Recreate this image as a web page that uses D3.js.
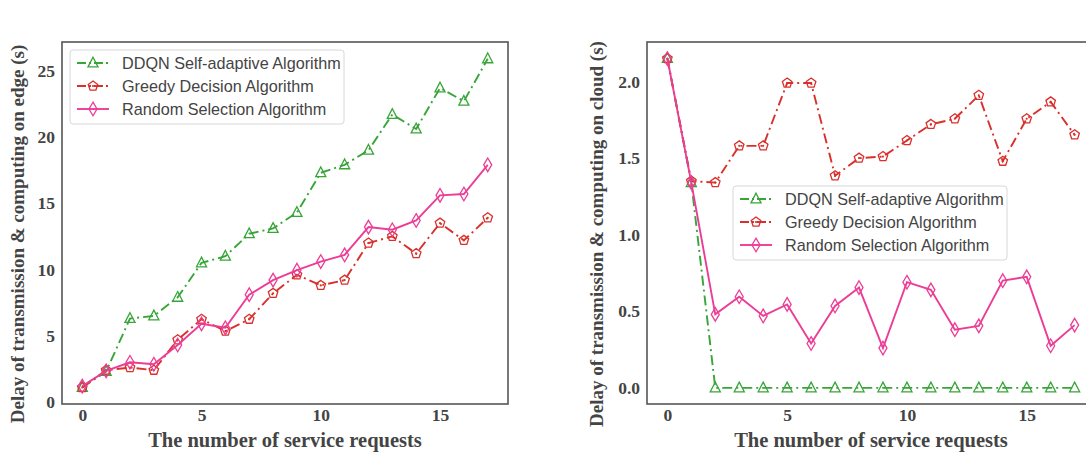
<!DOCTYPE html>
<html>
<head>
<meta charset="utf-8">
<script src="https://cdn.jsdelivr.net/npm/d3@7"></script>
<style>
  body { margin: 0; background: #fff; }
  svg { display: block; }
</style>
</head>
<body>
<div id="chart"></div>
<script>
// number of service requests (x categories)
var requests = [0, 1, 2, 3, 4, 5, 6, 7, 8, 9, 10, 11, 12, 13, 14, 15, 16, 17];

// left panel: delay on edge (s)
var edgeDDQN = [1.1, 2.3, 6.3, 6.5, 7.9, 10.5, 11.0, 12.7, 13.1, 14.3, 17.3, 17.9, 19.0, 21.7, 20.6, 23.7, 22.7, 25.9];
var edgeGreedy = [1.1, 2.4, 2.6, 2.4, 4.7, 6.25, 5.35, 6.25, 8.2, 9.6, 8.8, 9.2, 12.0, 12.5, 11.2, 13.5, 12.2, 13.9];
var edgeRandom = [1.2, 2.35, 3.0, 2.85, 4.3, 5.9, 5.6, 8.1, 9.2, 9.95, 10.6, 11.1, 13.2, 13.0, 13.7, 15.6, 15.7, 17.9];

// right panel: delay on cloud (s)
var cloudDDQN = [2.15, 1.34, 0, 0, 0, 0, 0, 0, 0, 0, 0, 0, 0, 0, 0, 0, 0, 0];
var cloudGreedy = [2.15, 1.35, 1.34, 1.58, 1.58, 1.99, 1.99, 1.385, 1.5, 1.51, 1.615, 1.72, 1.757, 1.91, 1.48, 1.757, 1.867, 1.652];
var cloudRandom = [2.15, 1.34, 0.48, 0.595, 0.47, 0.545, 0.29, 0.535, 0.655, 0.26, 0.69, 0.64, 0.38, 0.405, 0.70, 0.725, 0.275, 0.41];

var seriesNames = ["DDQN Self-adaptive Algorithm", "Greedy Decision Algorithm", "Random Selection Algorithm"];
var xTicks = [0, 5, 10, 15];
var edgeTicks = [0, 5, 10, 15, 20, 25];
var cloudTicks = [0, 0.5, 1.0, 1.5, 2.0];
var xLabel = "The number of service requests";

var colors = ["#37a537", "#d9302c", "#ec3d96"];
var dashes = ["10,4,2,4", "10,4,2,4", null];
var markers = ["triangle", "pentagon", "diamond"];

var svg = d3.select("#chart")
    .append("svg")
    .attr("width", 1086)
    .attr("height", 452);

// marker shape paths, centred on 0,0
function markerPath(kind) {
    if (kind == "triangle") {
        var r = 5.8;
        return "M0," + (-r) + "L" + (r * 0.87) + "," + (r * 0.5 + 1) + "L" + (-r * 0.87) + "," + (r * 0.5 + 1) + "Z";
    }
    if (kind == "pentagon") {
        var pts = [];
        for (var k = 0; k < 5; k++) {
            var a = -Math.PI / 2 + k * 2 * Math.PI / 5;
            pts.push([5 * Math.cos(a), 5 * Math.sin(a)]);
        }
        return "M" + pts.map(function (p) { return p[0].toFixed(2) + "," + p[1].toFixed(2) }).join("L") + "Z";
    }
    return "M0,-6.8L4,0L0,6.8L-4,0Z";
}

function drawMarker(g, kind, color, cx, cy) {
    g.append("path")
        .attr("d", markerPath(kind))
        .attr("transform", "translate(" + cx + "," + cy + ")")
        .attr("fill", "none")
        .attr("stroke", color)
        .attr("stroke-width", 1.3);
    if (kind == "pentagon") {
        g.append("circle")
            .attr("cx", cx).attr("cy", cy).attr("r", 1.1)
            .attr("fill", color);
    }
}

function drawPanel(p) {
    var x = d3.scaleLinear().domain([-0.85, 17.85]).range([p.left, p.right]);
    var y = d3.scaleLinear().domain(p.yDomain).range([p.bottom, p.top]);
    var g = svg.append("g");

    // x axis
    var xAxis = g.append("g")
        .attr("transform", "translate(0," + p.bottom + ")")
        .call(d3.axisBottom(x).tickValues(xTicks).tickSize(0).tickPadding(5));
    // y axis
    var yAxis = g.append("g")
        .attr("transform", "translate(" + p.left + ",0)")
        .call(d3.axisLeft(y).tickValues(p.yTicks).tickSize(0).tickPadding(7).tickFormat(p.fmt));
    [xAxis, yAxis].forEach(function (a) {
        a.select(".domain").remove();
        a.selectAll("text")
            .attr("fill", "#444")
            .style("font-family", "'Liberation Serif', 'Times New Roman', serif")
            .style("font-weight", "bold")
            .style("font-size", "17.5px");
    });

    // series
    p.series.forEach(function (vals, i) {
        var line = d3.line()
            .x(function (d, j) { return x(requests[j]) })
            .y(function (d) { return y(d) });
        g.append("path")
            .datum(vals)
            .attr("d", line)
            .attr("fill", "none")
            .attr("stroke", colors[i])
            .attr("stroke-width", 1.9)
            .attr("stroke-dasharray", dashes[i]);
        vals.forEach(function (v, j) {
            drawMarker(g, markers[i], colors[i], x(requests[j]), y(v));
        });
    });

    // frame
    g.append("rect")
        .attr("x", p.left).attr("y", p.top)
        .attr("width", p.right - p.left).attr("height", p.bottom - p.top)
        .attr("fill", "none")
        .attr("stroke", "#555")
        .attr("stroke-width", 1.6);

    // labels
    g.append("text")
        .attr("x", (p.left + p.right) / 2)
        .attr("y", 447)
        .attr("text-anchor", "middle")
        .attr("fill", "#444")
        .style("font-family", "'Liberation Serif', 'Times New Roman', serif")
        .style("font-weight", "bold")
        .style("font-size", "20.5px")
        .text(xLabel);
    g.append("text")
        .attr("transform", "translate(" + p.yLabelX + "," + 234 + ") rotate(-90)")
        .attr("text-anchor", "middle")
        .attr("fill", "#444")
        .style("font-family", "'Liberation Serif', 'Times New Roman', serif")
        .style("font-weight", "bold")
        .style("font-size", "19px")
        .text(p.yLabel);

    // legend
    var lg = g.append("g").attr("transform", "translate(" + p.legX + "," + p.legY + ")");
    lg.append("rect")
        .attr("width", 274).attr("height", 74)
        .attr("rx", 3)
        .attr("fill", "#fff").attr("fill-opacity", 0.85)
        .attr("stroke", "#d8d8d8").attr("stroke-width", 1);
    seriesNames.forEach(function (name, i) {
        var yy = 13 + i * 23;
        lg.append("line")
            .attr("x1", 7).attr("x2", 39).attr("y1", yy).attr("y2", yy)
            .attr("stroke", colors[i]).attr("stroke-width", 1.9)
            .attr("stroke-dasharray", dashes[i] ? "9,3,2,3" : null);
        drawMarker(lg, markers[i], colors[i], 23, yy);
        lg.append("text")
            .attr("x", 52).attr("y", yy)
            .attr("dy", "0.35em")
            .attr("fill", "#444")
            .style("font-family", "'Liberation Sans', Arial, sans-serif")
            .style("font-size", "16.2px")
            .text(name);
    });
}

drawPanel({
    left: 62, right: 508, top: 42, bottom: 404,
    yDomain: [-0.15, 27.17],
    yTicks: edgeTicks,
    fmt: d3.format("d"),
    series: [edgeDDQN, edgeGreedy, edgeRandom],
    yLabel: "Delay of transmission & computing on edge (s)",
    yLabelX: 24,
    legX: 70, legY: 50
});

drawPanel({
    left: 647, right: 1095, top: 42, bottom: 404,
    yDomain: [-0.105, 2.258],
    yTicks: cloudTicks,
    fmt: d3.format(".1f"),
    series: [cloudDDQN, cloudGreedy, cloudRandom],
    yLabel: "Delay of transmission & computing on cloud (s)",
    yLabelX: 603,
    legX: 733, legY: 186
});
</script>
</body>
</html>
